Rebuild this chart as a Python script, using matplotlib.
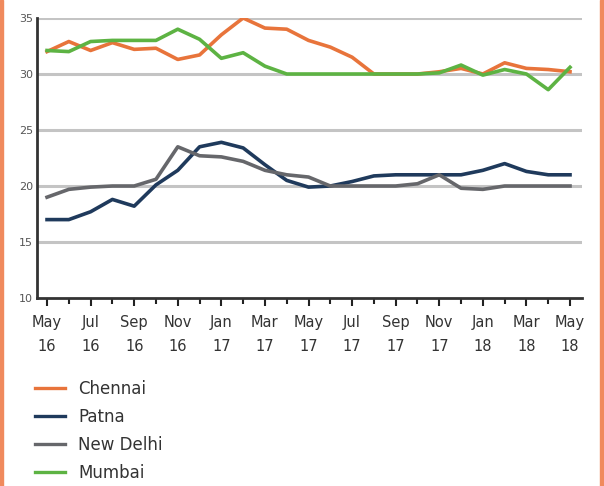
import matplotlib.pyplot as plt
from matplotlib.lines import Line2D
from matplotlib.patches import Rectangle

months = ['May 16', 'Jun 16', 'Jul 16', 'Aug 16', 'Sep 16', 'Oct 16', 'Nov 16', 'Dec 16',
          'Jan 17', 'Feb 17', 'Mar 17', 'Apr 17', 'May 17', 'Jun 17', 'Jul 17', 'Aug 17',
          'Sep 17', 'Oct 17', 'Nov 17', 'Dec 17', 'Jan 18', 'Feb 18', 'Mar 18', 'Apr 18', 'May 18']
tick_labels = ['May\n16', 'Jul\n16', 'Sep\n16', 'Nov\n16', 'Jan\n17', 'Mar\n17', 'May\n17',
               'Jul\n17', 'Sep\n17', 'Nov\n17', 'Jan\n18', 'Mar\n18', 'May\n18']

chennai = [32.0, 32.9, 32.1, 32.8, 32.2, 32.3, 31.3, 31.7, 33.5, 35.0, 34.1, 34.0, 33.0,
           32.4, 31.5, 30.0, 30.0, 30.0, 30.2, 30.5, 30.0, 31.0, 30.5, 30.4, 30.2]
patna = [17.0, 17.0, 17.7, 18.8, 18.2, 20.1, 21.4, 23.5, 23.9, 23.4, 21.9, 20.5, 19.9,
         20.0, 20.4, 20.9, 21.0, 21.0, 21.0, 21.0, 21.4, 22.0, 21.3, 21.0, 21.0]
new_delhi = [19.0, 19.7, 19.9, 20.0, 20.0, 20.6, 23.5, 22.7, 22.6, 22.2, 21.4, 21.0, 20.8,
             20.0, 20.0, 20.0, 20.0, 20.2, 21.0, 19.8, 19.7, 20.0, 20.0, 20.0, 20.0]
mumbai = [32.1, 32.0, 32.9, 33.0, 33.0, 33.0, 34.0, 33.1, 31.4, 31.9, 30.7, 30.0, 30.0,
          30.0, 30.0, 30.0, 30.0, 30.0, 30.1, 30.8, 29.9, 30.4, 30.0, 28.6, 30.6]

series = [('Chennai', chennai, '#e8743b'),
          ('Patna', patna, '#1f3a5c'),
          ('New Delhi', new_delhi, '#66676b'),
          ('Mumbai', mumbai, '#5db343')]

fig = plt.figure(figsize=(6.04, 4.86), dpi=100)
ax = fig.add_axes([37 / 604, 1 - 298 / 486, (582 - 37) / 604, (298 - 18) / 486])

x = list(range(len(months)))
for name, vals, col in series:
    ax.plot(x, vals, color=col, lw=2.6, solid_joinstyle='round', zorder=3)

ax.set_xlim(-0.46, 24.55)
ax.set_ylim(10, 35)
ax.set_yticks([10, 15, 20, 25, 30, 35])
ax.set_yticklabels(['10', '15', '20', '25', '30', '35'], fontsize=8, color='#555555')
for v in [15, 20, 25, 30, 35]:
    ax.axhline(v, color='#c4c4c4', lw=2.2, zorder=1)

ax.set_xticks(x[::2])
ax.set_xticklabels(tick_labels, fontsize=10.5, color='#333333', linespacing=1.75)
ax.set_xticks(x, minor=True)
ax.tick_params(axis='x', which='major', length=6, width=1.5, color='#222222', direction='out', pad=6)
ax.tick_params(axis='x', which='minor', length=4, width=1.5, color='#222222', direction='out')
ax.tick_params(axis='y', length=0, pad=3)

for s in ['top', 'right']:
    ax.spines[s].set_visible(False)
ax.spines['left'].set_color('#333333')
ax.spines['left'].set_linewidth(2)
ax.spines['bottom'].set_color('#333333')
ax.spines['bottom'].set_linewidth(2)

# legend below the chart
handles = [Line2D([], [], color=col, lw=2.4) for _, _, col in series]
fig.legend(handles, [n for n, _, _ in series], loc='upper left',
           bbox_to_anchor=(35 / 604, 1 - 380 / 486), frameon=False,
           fontsize=12, handlelength=1.8, labelspacing=0.6, handletextpad=0.8,
           borderpad=0, borderaxespad=0, labelcolor='#333333')

# orange frame edges
fig.patches.append(Rectangle((0, 0), 3 / 604, 1, transform=fig.transFigure,
                             color='#f08a5d', zorder=0))
fig.patches.append(Rectangle((600 / 604, 0), 4 / 604, 1, transform=fig.transFigure,
                             color='#f08a5d', zorder=0))

plt.savefig('out.png', dpi=100)
